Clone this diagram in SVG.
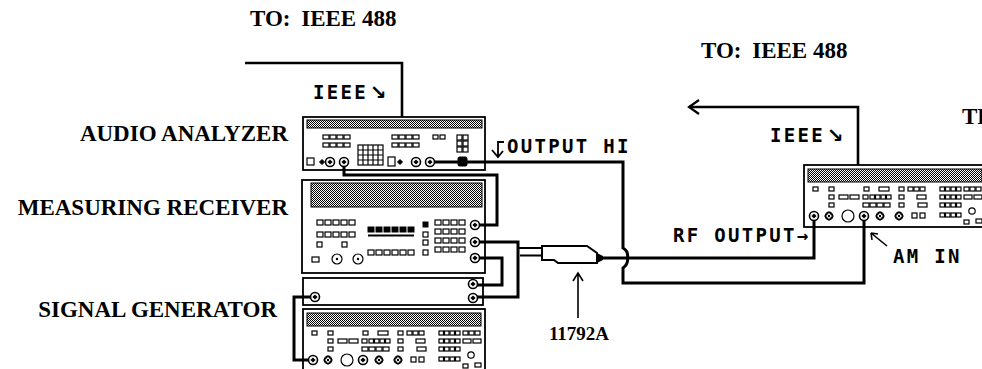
<svg xmlns="http://www.w3.org/2000/svg" width="982" height="369" viewBox="0 0 982 369">
<style>
.box{fill:none;stroke:#000;stroke-width:1.8}
.band{fill:url(#dith);stroke:#000;stroke-width:1}
.w{fill:#fff;stroke:#000;stroke-width:1.2}
.k{fill:#000;stroke:#000;stroke-width:1}
.cable{fill:none;stroke:#000;stroke-width:3;stroke-linejoin:miter}
.bus{fill:none;stroke:#000;stroke-width:2.6}
.thin{fill:none;stroke:#000;stroke-width:1.6}
.lbl{font-family:"Liberation Serif","Times New Roman",serif;font-weight:bold;font-size:23px;fill:#000}
.m{font-family:"DejaVu Sans Mono","Liberation Mono",monospace;font-weight:bold;font-size:19px;letter-spacing:2.3px;fill:#000}
.arr{font-family:"DejaVu Sans","Noto Sans",sans-serif;font-weight:bold;font-size:20px}
</style>
<defs>
<pattern id="dith" width="2" height="2" patternUnits="userSpaceOnUse">
<rect width="2" height="2" fill="#fff"/><rect width="1" height="1" fill="#000"/><rect x="1" y="1" width="1" height="1" fill="#000"/>
</pattern>
<g id="conn"><circle r="4.5" class="w" style="stroke-width:1.6"/><path d="M0,-2.6 L2.6,0 L0,2.6 L-2.6,0Z" fill="#000"/></g>
<g id="dr"><circle r="3.8" class="w"/><path d="M0,-3.8 L3.8,0 L0,3.8 L-3.8,0Z" class="w"/><circle r="1.2" fill="#000"/></g>
<g id="c4"><rect x="0" width="6" height="4" class="w"/><rect x="7" width="6" height="4" class="w"/><rect x="14" width="6" height="4" class="w"/><rect x="21" width="6" height="4" class="w"/></g>
<g id="c4s"><rect x="0" width="4.5" height="4" class="w"/><rect x="5.5" width="4.5" height="4" class="w"/><rect x="11" width="4.5" height="4" class="w"/><rect x="16.5" width="4.5" height="4" class="w"/></g>
<g id="c3"><rect x="0" width="5" height="4" class="w"/><rect x="6" width="5" height="4" class="w"/><rect x="12" width="5" height="4" class="w"/></g>
<rect id="sq" width="5" height="4" class="w"/>
<g id="panelB">
<rect x="0" y="0" width="182" height="62" class="box"/>
<rect x="4" y="4" width="174" height="13" class="band"/>
<use href="#sq" x="9" y="22"/><use href="#sq" x="25" y="22"/><use href="#sq" x="60" y="22"/>
<rect x="75" y="22" width="10" height="4" class="w"/>
<use href="#sq" x="95" y="22"/><use href="#sq" x="104" y="22"/><use href="#sq" x="110" y="22"/><use href="#sq" x="116" y="22"/>
<use href="#c4s" x="136" y="22"/><use href="#c3" x="160" y="22"/>
<use href="#sq" x="25" y="30"/>
<rect x="35" y="30" width="9" height="4" class="w"/><rect x="46" y="30" width="9" height="4" class="w"/>
<use href="#sq" x="59" y="30"/><use href="#c4s" x="66" y="30"/><use href="#sq" x="95" y="30"/>
<rect x="113" y="30" width="9" height="4" class="w"/>
<use href="#c4s" x="136" y="30"/>
<rect x="160" y="30" width="8" height="4" class="w"/><rect x="170" y="30" width="8" height="4" class="w"/>
<use href="#sq" x="25" y="38"/><use href="#c4" x="59" y="38"/><use href="#sq" x="95" y="38"/>
<rect x="114" y="38" width="9" height="4" class="w"/>
<use href="#c4s" x="136" y="38"/>
<use href="#conn" x="10" y="51"/><use href="#dr" x="25" y="51"/>
<circle cx="44" cy="51" r="6" class="w"/>
<use href="#conn" x="60" y="51"/><use href="#dr" x="76" y="51"/><use href="#dr" x="95" y="51"/>
<rect x="108" y="48" width="5" height="5" class="w"/><rect x="116" y="48" width="5" height="5" class="w"/>
<use href="#c4s" x="136" y="48"/>
<circle cx="168" cy="46" r="3.2" class="w"/>
<rect x="160" y="55" width="5" height="4" class="w"/><rect x="172" y="54" width="6" height="4" class="w"/>
</g>
</defs>

<g id="connectors">
<path class="bus" d="M245,63 H402 V117"/>
<path class="bus" d="M858,165 V107 H689"/>
<path class="thin" style="stroke-width:2.2" d="M699,100 L689,107 L699,114"/>
<path class="cable" d="M344,162 V175 H497 V225 H475"/>
<path class="cable" d="M430,162 H623 V248 Q628.5,251 627.5,258 Q628.5,264 623,268 V283 H864 V216"/>
<path class="cable" d="M475,242 H518 V297 H473"/>
<path class="cable" d="M475,258 H502 V285 H473"/>
<path class="cable" d="M315,297 H294 V360 H313"/>
<path class="cable" d="M603,258 H814 V216"/>
<path class="thin" style="stroke-width:2.2" d="M518,248 H543 M520,255.5 H543"/>
</g>

<g id="audio-analyzer">
<rect x="303" y="117" width="182" height="53" class="box"/>
<rect x="307" y="120" width="175" height="8" class="band"/>
<use href="#c4" x="323" y="135"/><use href="#c4" x="323" y="143"/>
<rect x="358" y="145" width="25" height="20" class="w"/>
<path class="thin" style="stroke-width:1.2" d="M363,145 V165 M368,145 V165 M373,145 V165 M378,145 V165 M358,150 H383 M358,155 H383 M358,160 H383"/>
<use href="#c4" x="392" y="135"/><use href="#c4" x="392" y="143"/>
<rect x="433" y="135" width="5" height="4" class="w"/><rect x="440" y="135" width="5" height="4" class="w"/>
<rect x="457" y="135" width="5" height="5" class="w"/><rect x="463" y="135" width="5" height="5" class="w"/>
<rect x="457" y="141" width="5" height="5" class="w"/><rect x="463" y="141" width="5" height="5" class="w"/>
<rect x="457" y="147" width="5" height="5" class="w"/><rect x="463" y="147" width="5" height="5" class="w"/>
<rect x="307" y="158" width="7" height="7" class="w"/>
<path class="k" d="M322,159.5 L324.5,162 L322,164.5 L319.5,162Z"/>
<use href="#conn" x="330" y="162"/><use href="#conn" x="344" y="162"/>
<rect x="388" y="157" width="7" height="9" class="w"/>
<path class="k" d="M400,159.5 L402.5,162 L400,164.5 L397.5,162Z"/>
<use href="#conn" x="416" y="162"/><use href="#conn" x="430" y="162"/>
<rect x="458" y="157" width="9" height="9" rx="1.5" class="k"/>
<text class="lbl" x="288" y="141" text-anchor="end">AUDIO ANALYZER</text>
</g>

<g id="measuring-receiver">
<rect x="302" y="180" width="183" height="93" class="box"/>
<rect x="311" y="183" width="171" height="24" class="band"/>
<rect x="317" y="220" width="6" height="5" class="w"/><rect x="325" y="220" width="6" height="5" class="w"/><rect x="333" y="220" width="6" height="5" class="w"/><rect x="341" y="220" width="6" height="5" class="w"/><rect x="349" y="220" width="6" height="5" class="w"/>
<rect x="317" y="232" width="6" height="5" class="w"/><rect x="325" y="232" width="6" height="5" class="w"/><rect x="333" y="232" width="6" height="5" class="w"/><rect x="341" y="232" width="6" height="5" class="w"/><rect x="349" y="232" width="6" height="5" class="w"/>
<rect x="317" y="242" width="5" height="5" class="w"/><rect x="342" y="242" width="5" height="5" class="w"/>
<rect x="312" y="257" width="7" height="5" class="w"/>
<circle cx="337" cy="259" r="5" class="w"/><circle cx="337" cy="259" r="1.2" fill="#000"/>
<circle cx="358" cy="259" r="5" class="w"/><circle cx="358" cy="259" r="1.2" fill="#000"/>
<rect x="368" y="227" width="6" height="5" class="k"/><rect x="376" y="227" width="6" height="5" class="k"/><rect x="384" y="227" width="6" height="5" class="k"/><rect x="392" y="227" width="6" height="5" class="k"/><rect x="400" y="227" width="6" height="5" class="k"/><rect x="408" y="227" width="6" height="5" class="k"/>
<path class="thin" style="stroke-width:2" d="M368,235.5 H414"/>
<rect x="368" y="250" width="6" height="5" class="w"/><rect x="376" y="250" width="6" height="5" class="w"/><rect x="384" y="250" width="6" height="5" class="w"/><rect x="392" y="250" width="6" height="5" class="w"/><rect x="400" y="250" width="6" height="5" class="w"/><rect x="408" y="250" width="6" height="5" class="w"/>
<rect x="423" y="222" width="5" height="5" class="k"/><rect x="423" y="232" width="5" height="5" class="w"/><rect x="423" y="240" width="5" height="5" class="w"/><rect x="423" y="250" width="5" height="5" class="w"/>
<rect x="435" y="220" width="6" height="5" class="w"/><rect x="443" y="220" width="6" height="5" class="w"/><rect x="451" y="220" width="6" height="5" class="w"/><rect x="459" y="220" width="6" height="5" class="w"/>
<rect x="435" y="229" width="6" height="5" class="w"/><rect x="443" y="229" width="6" height="5" class="w"/><rect x="451" y="229" width="6" height="5" class="w"/><rect x="459" y="229" width="6" height="5" class="w"/>
<rect x="435" y="238" width="6" height="5" class="w"/><rect x="443" y="238" width="6" height="5" class="w"/><rect x="451" y="238" width="6" height="5" class="w"/><rect x="459" y="238" width="6" height="5" class="w"/>
<rect x="435" y="247" width="6" height="5" class="w"/><rect x="443" y="247" width="6" height="5" class="w"/><rect x="451" y="247" width="6" height="5" class="w"/><rect x="459" y="247" width="6" height="5" class="w"/>
<use href="#conn" x="475" y="225"/><use href="#conn" x="475" y="242"/><use href="#conn" x="475" y="258"/>
<text class="lbl" x="288" y="215" text-anchor="end">MEASURING RECEIVER</text>
</g>

<g id="signal-generator">
<rect x="303" y="278" width="180" height="27" class="box"/>
<use href="#conn" x="315" y="297"/><use href="#conn" x="473" y="284"/><use href="#conn" x="473" y="298"/>
<use href="#panelB" transform="translate(303,309)"/>
<text class="lbl" x="277" y="317" text-anchor="end">SIGNAL GENERATOR</text>
</g>

<g id="transmitter">
<use href="#panelB" transform="translate(804,165)"/>
<text class="lbl" x="962" y="124">TRANSMITTER</text>
</g>

<g id="sensor-11792A">
<path d="M542,246 H587 L597,253 V263 H558 L554,260 H542 Z" fill="#fff" stroke="#000" stroke-width="2"/>
<path d="M597,253 L603,256 V260 L597,263 Z" fill="#000"/>
<path class="thin" d="M578,318 V273 M573,281 L578,273 L583,281"/>
<text class="lbl" x="579" y="340" text-anchor="middle" style="font-size:19px">11792A</text>
</g>

<g id="labels">
<text class="lbl" x="250" y="26">TO: <tspan dx="5">IEEE 488</tspan></text>
<text class="lbl" x="701" y="58">TO: <tspan dx="5">IEEE 488</tspan></text>
<text class="m" x="313" y="99">IEEE<tspan class="arr" dx="2">↘</tspan></text>
<text class="m" x="770" y="142">IEEE<tspan class="arr" dx="2">↘</tspan></text>
<path class="thin" style="stroke-width:1.8" d="M504,142 H498 V156 M492,150 L498,157 L503,151"/>
<text class="m" x="507" y="153">OUTPUT HI</text>
<text class="m" x="673" y="242">RF OUTPUT→</text>
<text class="m" x="893" y="263">AM IN</text>
<path class="thin" d="M887,246 L871,233 M871,233 L878,234 M871,233 L872,240"/>
</g>
</svg>
